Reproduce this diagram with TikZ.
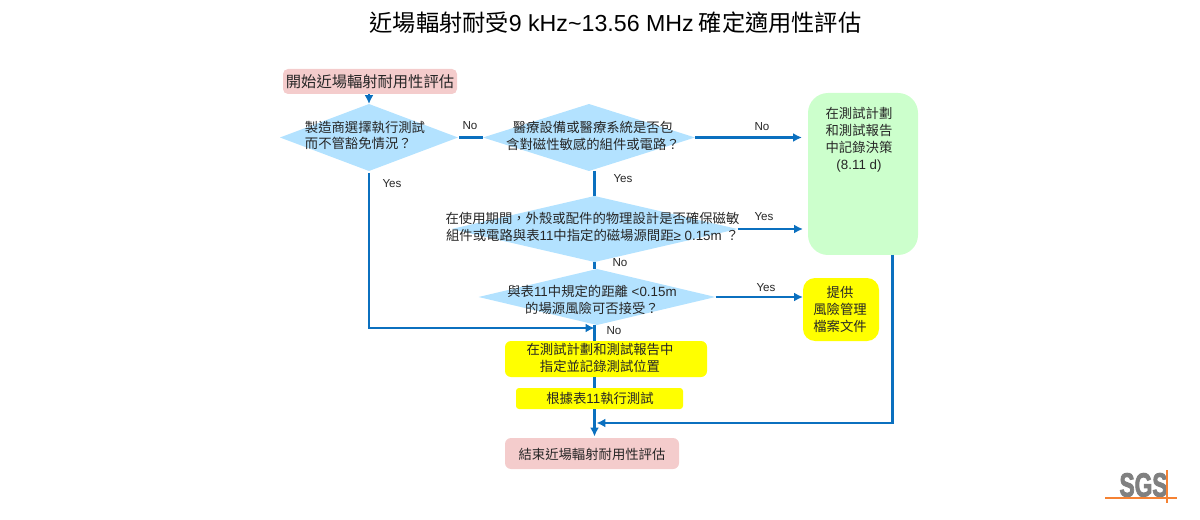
\documentclass[tikz,border=0pt]{standalone}
\usepackage{fontspec}
\setmainfont{Liberation Sans}
\newfontfamily\cjk{Noto Sans CJK TC}
\newfontfamily\logofont[BoldFeatures={FakeBold=3}]{Liberation Sans}
\usetikzlibrary{shapes,arrows.meta,positioning,calc}
\newcommand{\lat}[1]{{\rmfamily #1}}
\newcommand{\wcomma}{\symbol{"FF0C}}
\newcommand{\wquery}{\symbol{"FF1F}}
\definecolor{flowblue}{HTML}{0B70BF}
\definecolor{qblue}{HTML}{B3E2FF}
\definecolor{endpink}{HTML}{F4CCCC}
\definecolor{notegreen}{HTML}{CCFFCC}
\definecolor{stepyellow}{HTML}{FFFF00}
\definecolor{logoorange}{HTML}{F58233}
\definecolor{logogray}{HTML}{808080}
\tikzset{
    cjktext/.style={font=\cjk\fontsize{7.6}{9.6}\selectfont, align=center, text=black!85, inner sep=0pt},
    answer/.style={font=\fontsize{6.6}{7.5}\selectfont, text=black!85, inner sep=0pt},
    question/.style 2 args={diamond, fill=qblue, inner sep=0pt, outer sep=0pt, minimum width=#1*0.02cm, minimum height=#2*0.02cm},
    box/.style n args={3}{rectangle, rounded corners=#3*0.02cm, inner sep=0pt, outer sep=0pt, minimum width=#1*0.02cm, minimum height=#2*0.02cm},
    flow/.style={draw=flowblue, line width=1.6pt},
    flowarrow/.style={flow, -{Latex[length=5pt,width=5pt]}}
}
\begin{document}
\begin{tikzpicture}[x=0.02cm,y=-0.02cm]
    \useasboundingbox (0,0) rectangle (1200,520);

    % Title
    \node[font=\cjk\fontsize{13.2}{15}\selectfont, inner sep=0pt] (title) at (615.5,23) {近場輻射耐受\lat{9 kHz\textasciitilde13.56 MHz} 確定適用性評估};

    % Start and end
    \node[box={174}{25}{5}, fill=endpink] (start) at (370,81.5) {};
    \node[cjktext, font=\cjk\fontsize{8.7}{10}\selectfont] (starttext) at (370,82) {開始近場輻射耐用性評估};
    \node[box={174}{31}{6}, fill=endpink] (finish) at (592,453.5) {};
    \node[cjktext] (finishtext) at (592,454) {結束近場輻射耐用性評估};

    % Questions
    \node[question={178}{67}] (q1) at (369,137.5) {};
    \node[question={212}{67}] (q2) at (589,137.5) {};
    \node[question={286}{66}] (q3) at (594.5,229) {};
    \node[question={237}{56}] (q4) at (597,297) {};
    \node[cjktext] (q1text) at (365,135.5) {製造商選擇執行測試\\而不管豁免情況\wquery\hspace*{1em}};
    \node[cjktext] (q2text) at (593,135.5) {醫療設備或醫療系統是否包\\含對磁性敏感的組件或電路\wquery};
    \node[cjktext] (q3text) at (592.5,226.5) {在使用期間\wcomma 外殼或配件的物理設計是否確保磁敏\\組件或電路與表\lat{11}中指定的磁場源間距\lat{≥ 0.15m }\wquery};
    \node[cjktext] (q4text) at (592,299.5) {與表\lat{11}中規定的距離\lat{ <0.15m}\\的場源風險可否接受\wquery};

    % Outcome boxes
    \node[box={110}{162}{20}, fill=notegreen] (note) at (863,174) {};
    \node[cjktext] (notetext) at (859,139.5) {在測試計劃\\和測試報告\\中記錄決策\\\lat{(8.11 d)}};
    \node[box={76}{63}{12}, fill=stepyellow] (risk) at (841,309.5) {};
    \node[cjktext] (risktext) at (840,309.5) {提供\\風險管理\\檔案文件};
    \node[box={202}{36}{6}, fill=stepyellow] (record) at (606,359) {};
    \node[cjktext] (recordtext) at (600,358) {在測試計劃和測試報告中\\指定並記錄測試位置};
    \node[box={167}{21}{3}, fill=stepyellow] (run) at (599.5,398.5) {};
    \node[cjktext] (runtext) at (600,398) {根據表\lat{11}執行測試};

    % Connectors
    \coordinate (joinyes) at (369,328);
    \coordinate (mergeyes) at (594.5,328);
    \coordinate (noteout) at (892.5,255);
    \coordinate (notecorner) at (892.5,423);
    \coordinate (mergenote) at (596.5,423);
    \draw[flowarrow] (start.south -| q1.north) -- (q1.north);
    \draw[flow] ([xshift=0.02cm]q1.east) -- (q2.west);
    \draw[flowarrow, shorten >=6*0.02cm] (q2.east) -- (q2.east -| note.west);
    \draw[flow] (q3.north |- q2.south) -- (q3.north);
    \draw[flowarrow, shorten >=5*0.02cm] (q3.east) -- (q3.east -| note.west);
    \draw[flow] (q3.south) -- (mergeyes |- q4.north);
    \draw[flowarrow] (q4.east) -- (q4.east -| risk.west);
    \draw[flowarrow] ([yshift=-2*0.02cm]q1.south) -- (joinyes) -- (mergeyes);
    \draw[flow] (mergeyes |- q4.south) -- (mergeyes |- record.north);
    \draw[flow] (mergeyes |- record.south) -- (mergeyes |- run.north);
    \draw[flowarrow, shorten >=1.5*0.02cm] (mergeyes |- run.south) -- (mergeyes |- finish.north);
    \draw[flowarrow] (noteout) -- (notecorner) -- (mergenote);

    % Answers
    \node[answer] (a1no) at (470,126) {No};
    \node[answer] (a1yes) at (392,184) {Yes};
    \node[answer] (a2no) at (762,127) {No};
    \node[answer] (a2yes) at (623,179) {Yes};
    \node[answer] (a3yes) at (764,217) {Yes};
    \node[answer] (a3no) at (620,263) {No};
    \node[answer] (a4yes) at (766,288) {Yes};
    \node[answer] (a4no) at (614,331) {No};

    % Logo
    \node[font=\logofont\bfseries\fontsize{19}{20}\selectfont, text=logogray, inner sep=0pt, xscale=0.68] (logo) at (1143.5,485) {SGS};
    \coordinate (logoleft) at (1105,498);
    \coordinate (logoright) at (1177,498);
    \coordinate (logotop) at (1167,470);
    \coordinate (logobottom) at (1167,503);
    \draw[logoorange, line width=0.7pt] (logoleft) -- (logoright);
    \draw[logoorange, line width=0.7pt] (logotop) -- (logobottom);
\end{tikzpicture}
\end{document}
